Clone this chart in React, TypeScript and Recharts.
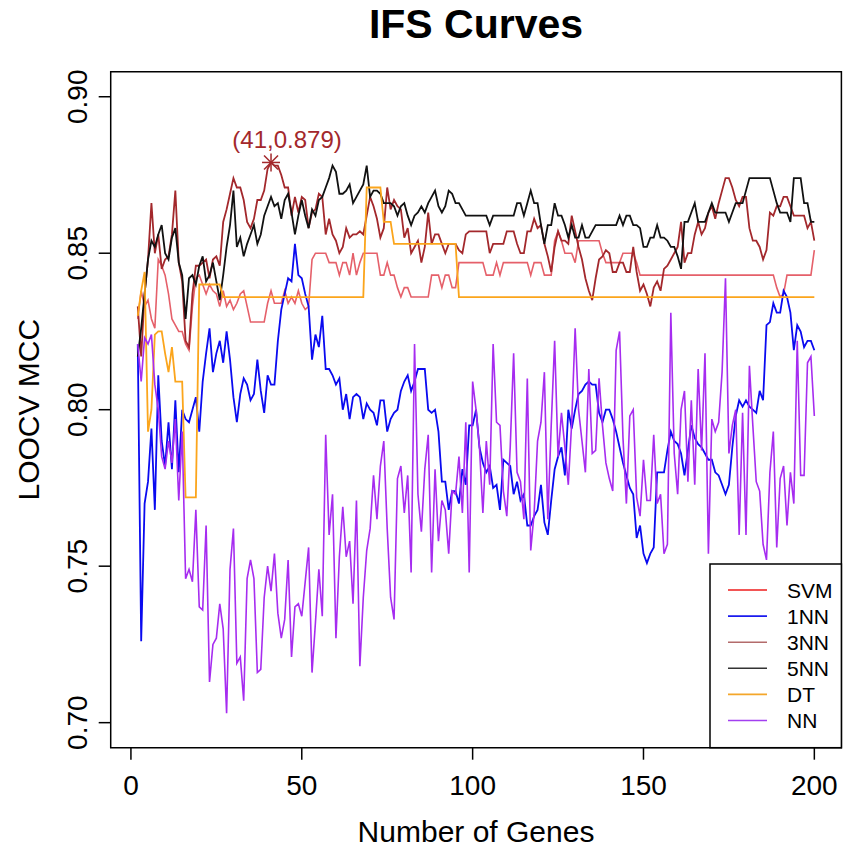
import React from 'react'
import { LineChart, Line, XAxis, YAxis, ReferenceArea, ReferenceDot } from 'recharts'

// number of genes on the x axis: 2 .. 200
const GENES = Array.from({ length: 199 }, (_, i) => i + 2)

const X_TICKS = [0, 50, 100, 150, 200]
const Y_TICKS = [0.7, 0.75, 0.8, 0.85, 0.9]

const SVM_MCC = [
  0.829, 0.838, 0.833, 0.835, 0.829, 0.826, 0.848, 0.846, 0.843, 0.837,
  0.829, 0.827, 0.825, 0.825, 0.821, 0.819, 0.833, 0.842, 0.843, 0.840,
  0.837, 0.840, 0.838, 0.837, 0.833, 0.838, 0.833, 0.835, 0.832, 0.834,
  0.837, 0.838, 0.833, 0.828, 0.828, 0.828, 0.828, 0.828, 0.834, 0.838,
  0.834, 0.834, 0.834, 0.838, 0.834, 0.836, 0.834, 0.838, 0.834, 0.832,
  0.833, 0.848, 0.850, 0.850, 0.850, 0.850, 0.847, 0.847, 0.847, 0.843,
  0.847, 0.847, 0.843, 0.850, 0.843, 0.847, 0.850, 0.850, 0.850, 0.850,
  0.850, 0.843, 0.843, 0.847, 0.843, 0.843, 0.839, 0.836, 0.839, 0.839,
  0.836, 0.836, 0.836, 0.836, 0.836, 0.836, 0.843, 0.843, 0.843, 0.839,
  0.843, 0.843, 0.839, 0.839, 0.847, 0.847, 0.847, 0.847, 0.847, 0.847,
  0.847, 0.847, 0.843, 0.843, 0.843, 0.847, 0.843, 0.847, 0.847, 0.847,
  0.847, 0.847, 0.847, 0.847, 0.847, 0.843, 0.847, 0.847, 0.847, 0.843,
  0.843, 0.843, 0.854, 0.857, 0.854, 0.850, 0.850, 0.850, 0.847, 0.854,
  0.854, 0.854, 0.854, 0.854, 0.854, 0.854, 0.850, 0.847, 0.847, 0.847,
  0.847, 0.847, 0.850, 0.850, 0.850, 0.850, 0.847, 0.843, 0.843, 0.843,
  0.843, 0.843, 0.843, 0.843, 0.843, 0.843, 0.843, 0.843, 0.843, 0.843,
  0.843, 0.843, 0.843, 0.843, 0.843, 0.843, 0.843, 0.843, 0.843, 0.843,
  0.843, 0.843, 0.843, 0.843, 0.843, 0.843, 0.843, 0.843, 0.843, 0.843,
  0.843, 0.843, 0.843, 0.843, 0.843, 0.843, 0.843, 0.839, 0.836, 0.837,
  0.843, 0.843, 0.843, 0.843, 0.843, 0.843, 0.843, 0.843, 0.851
]

const NN1_MCC = [
  0.821, 0.726, 0.770, 0.777, 0.794, 0.768, 0.811, 0.790, 0.782, 0.796,
  0.781, 0.803, 0.780, 0.800, 0.797, 0.796, 0.800, 0.804, 0.793, 0.809,
  0.818, 0.826, 0.812, 0.818, 0.822, 0.815, 0.825, 0.816, 0.804, 0.796,
  0.805, 0.810, 0.808, 0.803, 0.805, 0.816, 0.806, 0.799, 0.811, 0.808,
  0.808, 0.822, 0.832, 0.837, 0.842, 0.841, 0.853, 0.843, 0.842, 0.837,
  0.833, 0.816, 0.824, 0.820, 0.830, 0.813, 0.813, 0.811, 0.808, 0.810,
  0.800, 0.805, 0.797, 0.804, 0.805, 0.804, 0.797, 0.802, 0.800, 0.799,
  0.795, 0.803, 0.803, 0.793, 0.797, 0.799, 0.800, 0.806, 0.809, 0.811,
  0.806, 0.809, 0.813, 0.813, 0.813, 0.800, 0.799, 0.800, 0.793, 0.777,
  0.777, 0.768, 0.774, 0.774, 0.770, 0.781, 0.776, 0.795, 0.795, 0.800,
  0.788, 0.783, 0.780, 0.782, 0.775, 0.776, 0.768, 0.784, 0.783, 0.782,
  0.773, 0.777, 0.771, 0.773, 0.763, 0.763, 0.766, 0.768, 0.776, 0.764,
  0.760, 0.771, 0.781, 0.785, 0.788, 0.779, 0.800, 0.794, 0.800, 0.805,
  0.806, 0.808, 0.809, 0.808, 0.808, 0.799, 0.796, 0.800, 0.800, 0.797,
  0.793, 0.788, 0.783, 0.779, 0.775, 0.773, 0.759, 0.763, 0.754, 0.751,
  0.754, 0.756, 0.780, 0.780, 0.780, 0.787, 0.793, 0.790, 0.789, 0.786,
  0.779, 0.787, 0.795, 0.791, 0.789, 0.788, 0.786, 0.784, 0.784, 0.780,
  0.779, 0.776, 0.773, 0.776, 0.788, 0.798, 0.803, 0.801, 0.803, 0.801,
  0.800, 0.799, 0.806, 0.803, 0.827, 0.828, 0.834, 0.831, 0.831, 0.838,
  0.836, 0.831, 0.819, 0.827, 0.825, 0.820, 0.822, 0.822, 0.819
]

const NN3_MCC = [
  0.833, 0.817, 0.837, 0.848, 0.866, 0.850, 0.856, 0.845, 0.848, 0.849,
  0.856, 0.870, 0.847, 0.841, 0.822, 0.820, 0.837, 0.846, 0.846, 0.847,
  0.848, 0.842, 0.848, 0.849, 0.846, 0.860, 0.864, 0.869, 0.874, 0.871,
  0.871, 0.867, 0.860, 0.858, 0.861, 0.867, 0.867, 0.870, 0.877, 0.879,
  0.878, 0.878, 0.875, 0.871, 0.871, 0.862, 0.868, 0.863, 0.868, 0.867,
  0.858, 0.863, 0.864, 0.869, 0.868, 0.856, 0.861, 0.856, 0.854, 0.850,
  0.852, 0.858, 0.855, 0.856, 0.856, 0.857, 0.856, 0.862, 0.868, 0.865,
  0.861, 0.855, 0.858, 0.871, 0.864, 0.867, 0.865, 0.864, 0.855, 0.858,
  0.850, 0.852, 0.854, 0.847, 0.852, 0.863, 0.853, 0.856, 0.856, 0.853,
  0.850, 0.853, 0.853, 0.853, 0.851, 0.850, 0.856, 0.857, 0.857, 0.857,
  0.857, 0.857, 0.857, 0.850, 0.853, 0.853, 0.853, 0.853, 0.857, 0.857,
  0.857, 0.853, 0.850, 0.850, 0.857, 0.857, 0.861, 0.858, 0.859, 0.853,
  0.849, 0.844, 0.852, 0.857, 0.854, 0.854, 0.853, 0.862, 0.857, 0.852,
  0.848, 0.842, 0.838, 0.835, 0.842, 0.848, 0.849, 0.851, 0.850, 0.844,
  0.844, 0.847, 0.847, 0.844, 0.844, 0.852, 0.844, 0.838, 0.840, 0.837,
  0.833, 0.839, 0.841, 0.838, 0.845, 0.846, 0.848, 0.850, 0.852, 0.860,
  0.847, 0.850, 0.850, 0.856, 0.860, 0.856, 0.858, 0.863, 0.865, 0.861,
  0.866, 0.870, 0.874, 0.874, 0.871, 0.867, 0.865, 0.868, 0.868, 0.858,
  0.854, 0.854, 0.852, 0.848, 0.851, 0.863, 0.862, 0.865, 0.865, 0.868,
  0.868, 0.865, 0.862, 0.862, 0.862, 0.862, 0.858, 0.860, 0.854
]

const NN5_MCC = [
  0.817, 0.826, 0.837, 0.848, 0.854, 0.852, 0.856, 0.859, 0.850, 0.848,
  0.855, 0.858, 0.847, 0.843, 0.829, 0.842, 0.843, 0.840, 0.846, 0.849,
  0.841, 0.843, 0.847, 0.841, 0.835, 0.843, 0.852, 0.859, 0.870, 0.852,
  0.855, 0.849, 0.853, 0.856, 0.859, 0.853, 0.856, 0.862, 0.865, 0.868,
  0.865, 0.866, 0.861, 0.867, 0.869, 0.863, 0.856, 0.862, 0.867, 0.862,
  0.858, 0.864, 0.862, 0.867, 0.868, 0.871, 0.874, 0.878, 0.876, 0.869,
  0.869, 0.870, 0.872, 0.866, 0.868, 0.870, 0.872, 0.878, 0.868, 0.870,
  0.870, 0.869, 0.866, 0.866, 0.866, 0.865, 0.862, 0.865, 0.866, 0.862,
  0.859, 0.862, 0.863, 0.865, 0.863, 0.866, 0.868, 0.870, 0.865, 0.863,
  0.865, 0.870, 0.869, 0.866, 0.866, 0.864, 0.862, 0.862, 0.862, 0.862,
  0.862, 0.862, 0.862, 0.859, 0.862, 0.862, 0.862, 0.862, 0.862, 0.862,
  0.862, 0.866, 0.866, 0.862, 0.866, 0.870, 0.866, 0.866, 0.859, 0.853,
  0.859, 0.859, 0.866, 0.862, 0.862, 0.859, 0.855, 0.859, 0.855, 0.855,
  0.859, 0.855, 0.855, 0.857, 0.859, 0.859, 0.859, 0.859, 0.859, 0.859,
  0.859, 0.862, 0.859, 0.862, 0.862, 0.859, 0.859, 0.858, 0.852, 0.852,
  0.855, 0.855, 0.859, 0.855, 0.855, 0.854, 0.852, 0.852, 0.849, 0.845,
  0.860, 0.860, 0.863, 0.866, 0.860, 0.860, 0.860, 0.863, 0.866, 0.863,
  0.863, 0.863, 0.863, 0.860, 0.863, 0.866, 0.866, 0.866, 0.870, 0.874,
  0.874, 0.874, 0.874, 0.874, 0.874, 0.874, 0.870, 0.866, 0.863, 0.863,
  0.863, 0.860, 0.874, 0.874, 0.874, 0.866, 0.866, 0.860, 0.860
]

const DT_MCC = [
  0.830, 0.838, 0.844, 0.793, 0.800, 0.824, 0.825, 0.825, 0.818, 0.812,
  0.820, 0.809, 0.809, 0.809, 0.772, 0.772, 0.772, 0.772, 0.840, 0.840,
  0.840, 0.840, 0.840, 0.840, 0.840, 0.836, 0.836, 0.836, 0.836, 0.836,
  0.836, 0.836, 0.836, 0.836, 0.836, 0.836, 0.836, 0.836, 0.836, 0.836,
  0.836, 0.836, 0.836, 0.836, 0.836, 0.836, 0.836, 0.836, 0.836, 0.836,
  0.836, 0.836, 0.836, 0.836, 0.836, 0.836, 0.836, 0.836, 0.836, 0.836,
  0.836, 0.836, 0.836, 0.836, 0.836, 0.836, 0.836, 0.871, 0.871, 0.871,
  0.871, 0.871, 0.860, 0.860, 0.860, 0.853, 0.853, 0.853, 0.853, 0.853,
  0.853, 0.853, 0.853, 0.853, 0.853, 0.853, 0.853, 0.853, 0.853, 0.853,
  0.853, 0.853, 0.853, 0.853, 0.836, 0.836, 0.836, 0.836, 0.836, 0.836,
  0.836, 0.836, 0.836, 0.836, 0.836, 0.836, 0.836, 0.836, 0.836, 0.836,
  0.836, 0.836, 0.836, 0.836, 0.836, 0.836, 0.836, 0.836, 0.836, 0.836,
  0.836, 0.836, 0.836, 0.836, 0.836, 0.836, 0.836, 0.836, 0.836, 0.836,
  0.836, 0.836, 0.836, 0.836, 0.836, 0.836, 0.836, 0.836, 0.836, 0.836,
  0.836, 0.836, 0.836, 0.836, 0.836, 0.836, 0.836, 0.836, 0.836, 0.836,
  0.836, 0.836, 0.836, 0.836, 0.836, 0.836, 0.836, 0.836, 0.836, 0.836,
  0.836, 0.836, 0.836, 0.836, 0.836, 0.836, 0.836, 0.836, 0.836, 0.836,
  0.836, 0.836, 0.836, 0.836, 0.836, 0.836, 0.836, 0.836, 0.836, 0.836,
  0.836, 0.836, 0.836, 0.836, 0.836, 0.836, 0.836, 0.836, 0.836, 0.836,
  0.836, 0.836, 0.836, 0.836, 0.836, 0.836, 0.836, 0.836, 0.836
]

const NN_MCC = [
  0.821, 0.809, 0.823, 0.821, 0.824, 0.808, 0.800, 0.785, 0.781, 0.790,
  0.783, 0.797, 0.771, 0.793, 0.746, 0.749, 0.745, 0.768, 0.737, 0.736,
  0.763, 0.713, 0.725, 0.727, 0.738, 0.730, 0.703, 0.749, 0.762, 0.719,
  0.721, 0.707, 0.746, 0.752, 0.746, 0.716, 0.717, 0.740, 0.750, 0.742,
  0.754, 0.735, 0.727, 0.733, 0.752, 0.721, 0.737, 0.738, 0.734, 0.745,
  0.756, 0.716, 0.732, 0.749, 0.734, 0.792, 0.760, 0.773, 0.727, 0.753,
  0.769, 0.753, 0.758, 0.738, 0.771, 0.718, 0.740, 0.755, 0.762, 0.779,
  0.765, 0.782, 0.790, 0.762, 0.740, 0.733, 0.778, 0.782, 0.767, 0.779,
  0.748, 0.821, 0.773, 0.761, 0.781, 0.792, 0.748, 0.781, 0.758, 0.771,
  0.768, 0.754, 0.774, 0.773, 0.785, 0.767, 0.796, 0.748, 0.809, 0.800,
  0.788, 0.767, 0.790, 0.776, 0.821, 0.796, 0.795, 0.774, 0.766, 0.788,
  0.818, 0.780, 0.777, 0.765, 0.810, 0.755, 0.767, 0.790, 0.796, 0.812,
  0.765, 0.795, 0.822, 0.785, 0.799, 0.788, 0.776, 0.796, 0.826, 0.800,
  0.790, 0.780, 0.813, 0.786, 0.787, 0.810, 0.795, 0.783, 0.778, 0.774,
  0.819, 0.825, 0.791, 0.770, 0.798, 0.800, 0.772, 0.766, 0.784, 0.771,
  0.771, 0.792, 0.770, 0.773, 0.754, 0.757, 0.831, 0.786, 0.773, 0.800,
  0.806, 0.777, 0.803, 0.776, 0.813, 0.787, 0.818, 0.754, 0.797, 0.793,
  0.796, 0.812, 0.842, 0.786, 0.795, 0.800, 0.760, 0.799, 0.760, 0.814,
  0.795, 0.777, 0.774, 0.757, 0.752, 0.780, 0.793, 0.756, 0.778, 0.782,
  0.763, 0.780, 0.770, 0.822, 0.779, 0.779, 0.815, 0.817, 0.798
]

// best point marked on the 3NN curve
const BEST_GENES = 41
const BEST_MCC = 0.879

const SERIES = [
  { key: 'SVM', color: '#e5606a', legendColor: '#ee1c1c', width: 1.6 },
  { key: '1NN', color: '#0a0af0', legendColor: '#1a1aee', width: 1.8 },
  { key: '3NN', color: '#a3282c', legendColor: '#b36b6b', width: 1.8 },
  { key: '5NN', color: '#111111', legendColor: '#333333', width: 1.8 },
  { key: 'DT', color: '#fba51c', legendColor: '#f4a62a', width: 1.8 },
  { key: 'NN', color: '#a62cf0', legendColor: '#a23ff0', width: 1.6 }
]

const data = GENES.map((g, i) => ({
  genes: g,
  SVM: SVM_MCC[i],
  '1NN': NN1_MCC[i],
  '3NN': NN3_MCC[i],
  '5NN': NN5_MCC[i],
  DT: DT_MCC[i],
  NN: NN_MCC[i]
}))

const FONT = '"Liberation Sans", Arial, sans-serif'
const X_DOMAIN: [number, number] = [-5.92, 207.92]
const Y_DOMAIN: [number, number] = [0.692, 0.908]

function XTick(props: any) {
  const { x, y, payload } = props
  return (
    <text x={x} y={y + 35} textAnchor="middle" fontSize={28} fontFamily={FONT} fill="#000">
      {payload.value}
    </text>
  )
}

function YTick(props: any) {
  const { x, y, payload } = props
  const bx = x - 12
  return (
    <text
      x={bx}
      y={y}
      transform={`rotate(-90, ${bx}, ${y})`}
      textAnchor="middle"
      fontSize={28}
      fontFamily={FONT}
      fill="#000"
    >
      {Number(payload.value).toFixed(2)}
    </text>
  )
}

function BestMark(props: any) {
  const { cx, cy } = props
  const c = '#a3282c'
  return (
    <g>
      <line x1={cx - 9} y1={cy} x2={cx + 9} y2={cy} stroke={c} strokeWidth={1.5} />
      <line x1={cx} y1={cy - 9} x2={cx} y2={cy + 9} stroke={c} strokeWidth={1.5} />
      <line x1={cx - 7} y1={cy - 7} x2={cx + 7} y2={cy + 7} stroke={c} strokeWidth={1.5} />
      <line x1={cx - 7} y1={cy + 7} x2={cx + 7} y2={cy - 7} stroke={c} strokeWidth={1.5} />
      <text x={cx + 16} y={cy - 14} textAnchor="middle" fontSize={24} fontFamily={FONT} fill={c}>
        {`(${BEST_GENES},${BEST_MCC})`}
      </text>
    </g>
  )
}

export default function App() {
  return (
    <div style={{ position: 'absolute', left: 0, top: 0, width: 844, height: 850, background: '#fff' }}>
      <LineChart width={844} height={850} data={data} margin={{ top: 71.7, right: 2.6, bottom: 0, left: 0 }}>
        <XAxis
          type="number"
          dataKey="genes"
          domain={X_DOMAIN}
          ticks={X_TICKS}
          interval={0}
          allowDataOverflow
          height={102.3}
          tickSize={12}
          tickMargin={0}
          axisLine={false}
          tickLine={{ stroke: '#000', strokeWidth: 1.5 }}
          tick={<XTick />}
        />
        <YAxis
          type="number"
          domain={Y_DOMAIN}
          ticks={Y_TICKS}
          interval={0}
          allowDataOverflow
          width={110.7}
          tickSize={12}
          tickMargin={0}
          axisLine={false}
          tickLine={{ stroke: '#000', strokeWidth: 1.5 }}
          tick={<YTick />}
        />
        {SERIES.map((s) => (
          <Line
            key={s.key}
            type="linear"
            dataKey={s.key}
            stroke={s.color}
            strokeWidth={s.width}
            dot={false}
            activeDot={false}
            isAnimationActive={false}
          />
        ))}
        <ReferenceDot x={BEST_GENES} y={BEST_MCC} r={8} shape={BestMark} ifOverflow="visible" />
        <ReferenceArea
          x1={X_DOMAIN[0]}
          x2={X_DOMAIN[1]}
          y1={Y_DOMAIN[0]}
          y2={Y_DOMAIN[1]}
          fill="none"
          fillOpacity={0}
          stroke="#000"
          strokeWidth={1.5}
          ifOverflow="visible"
        />
      </LineChart>
      <svg
        width={844}
        height={850}
        style={{ position: 'absolute', left: 0, top: 0, pointerEvents: 'none' }}
      >
        <text x={476} y={37.5} textAnchor="middle" fontSize={41} fontWeight="bold" fontFamily={FONT}>
          IFS Curves
        </text>
        <text x={476} y={842} textAnchor="middle" fontSize={30} fontFamily={FONT}>
          Number of Genes
        </text>
        <text
          x={38.7}
          y={409.7}
          transform="rotate(-90, 38.7, 409.7)"
          textAnchor="middle"
          fontSize={30}
          fontFamily={FONT}
        >
          LOOCV MCC
        </text>
        <rect x={710} y={564} width={131.4} height={183.7} fill="#fff" stroke="#000" strokeWidth={1.5} />
        {SERIES.map((s, i) => (
          <g key={s.key}>
            <line x1={728} x2={767} y1={590 + i * 26.1} y2={590 + i * 26.1} stroke={s.legendColor} strokeWidth={1.6} />
            <text x={787} y={590 + i * 26.1 + 7.5} fontSize={21} fontFamily={FONT} fill="#000">
              {s.key}
            </text>
          </g>
        ))}
      </svg>
    </div>
  )
}
